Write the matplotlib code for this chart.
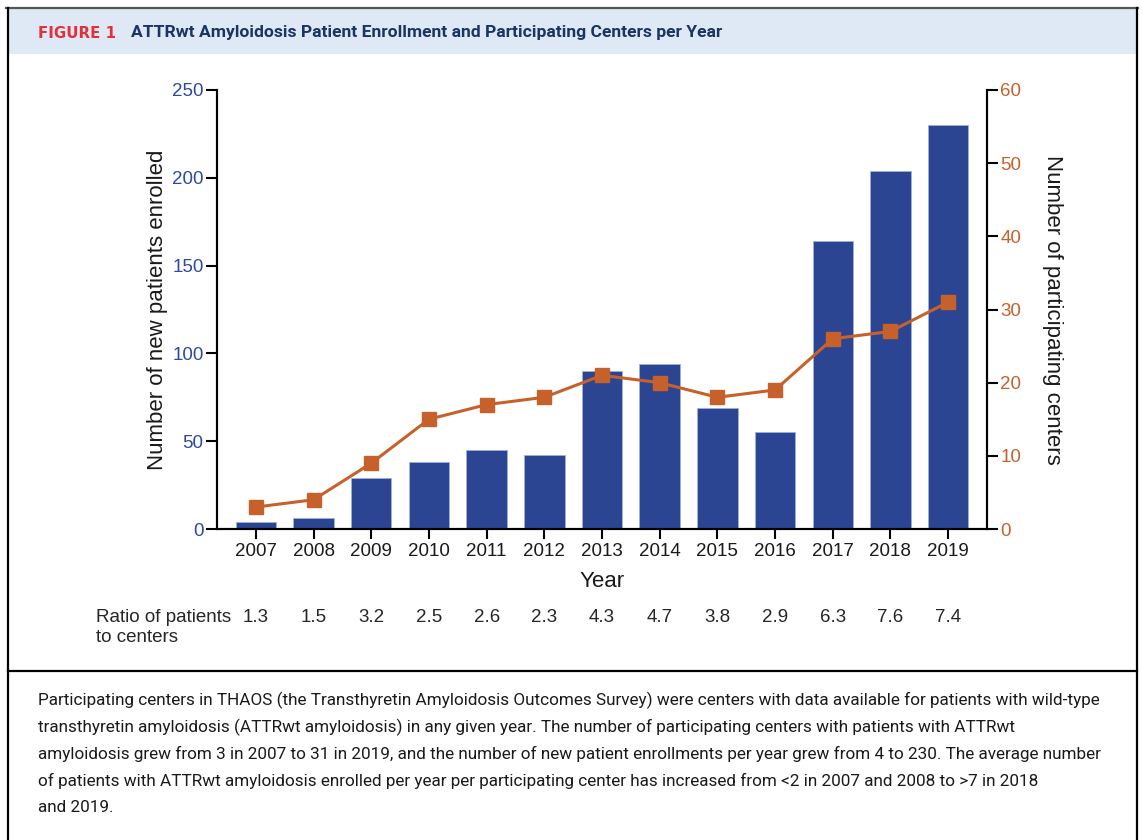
import matplotlib
matplotlib.use("Agg")
import matplotlib.pyplot as plt
from matplotlib.lines import Line2D
from matplotlib.patches import Rectangle

# ---- data ----
years = [2007, 2008, 2009, 2010, 2011, 2012, 2013, 2014, 2015, 2016, 2017, 2018, 2019]
patients = [4, 6, 29, 38, 45, 42, 90, 94, 69, 55, 164, 204, 230]
centers = [3, 4, 9, 15, 17, 18, 21, 20, 18, 19, 26, 27, 31]
ratios = ["1.3", "1.5", "3.2", "2.5", "2.6", "2.3", "4.3", "4.7", "3.8", "2.9", "6.3", "7.6", "7.4"]
left_ticks = [0, 50, 100, 150, 200, 250]
right_ticks = [0, 10, 20, 30, 40, 50, 60]

title_fig = "FIGURE 1"
title_text = "ATTRwt Amyloidosis Patient Enrollment and Participating Centers per Year"
caption_lines = [
    "Participating centers in THAOS (the Transthyretin Amyloidosis Outcomes Survey) were centers with data available for patients with wild-type",
    "transthyretin amyloidosis (ATTRwt amyloidosis) in any given year. The number of participating centers with patients with ATTRwt",
    "amyloidosis grew from 3 in 2007 to 31 in 2019, and the number of new patient enrollments per year grew from 4 to 230. The average number",
    "of patients with ATTRwt amyloidosis enrolled per year per participating center has increased from <2 in 2007 and 2008 to >7 in 2018",
    "and 2019.",
]

BAR = "#2B4593"
ORANGE = "#C7612B"
BLUE_TXT = "#2E4A9F"
W, H = 1142, 840

fig = plt.figure(figsize=(W / 100, H / 100), dpi=100)
plt.rcParams["font.family"] = ["Liberation Sans", "DejaVu Sans"]

def fx(px):
    return px / W

def fy(py):
    return 1 - py / H

# frame decorations
fig.patches.append(Rectangle((fx(8), fy(54)), fx(1129), (54 - 9) / H, transform=fig.transFigure,
                             facecolor="#DEE9F5", edgecolor="none", zorder=0))
fig.add_artist(Line2D([fx(6), fx(1138)], [fy(8), fy(8)], transform=fig.transFigure, color="#555555", lw=1.6))
fig.add_artist(Line2D([fx(7.5), fx(7.5)], [fy(8), 0], transform=fig.transFigure, color="black", lw=1.6))
fig.add_artist(Line2D([fx(1137), fx(1137)], [fy(8), 0], transform=fig.transFigure, color="black", lw=1.6))
fig.add_artist(Line2D([fx(7.5), fx(1137)], [fy(671), fy(671)], transform=fig.transFigure, color="black", lw=1.6))

# title
fig.text(fx(38), fy(33), title_fig, color="#E2313B", fontsize=10.8, fontweight="bold",
         family=["DejaVu Sans"], va="center", ha="left")
fig.text(fx(131), fy(33), title_text, color="#1B3563", fontsize=12.6, fontweight="bold",
         family=["Roboto", "DejaVu Sans"], va="center", ha="left")

# axes
ax = fig.add_axes([fx(216.7), fy(529), fx(987.3 - 216.7), (529 - 90) / H])
x = list(range(len(years)))
ax.bar(x, patients, width=0.7, color=BAR, edgecolor="#9FB0DA", linewidth=0.6, zorder=2)
ax.set_xlim(-0.68, 12.68)
ax.set_ylim(0, 250)
ax.set_yticks(left_ticks)
ax.set_xticks(x)
ax.set_xticklabels([str(y) for y in years])
ax.tick_params(axis="y", direction="out", length=8, width=1.5, pad=1.5, labelsize=13.5, labelcolor=BLUE_TXT)
ax.tick_params(axis="x", direction="out", length=7, width=1.5, pad=3, labelsize=13.5, labelcolor="#1a1a1a")
for s in ["top"]:
    ax.spines[s].set_visible(False)
for s in ["left", "bottom", "right"]:
    ax.spines[s].set_linewidth(1.5)
ax.set_ylabel("Number of new patients enrolled", fontsize=16, labelpad=3, color="#1a1a1a")
ax.set_xlabel("Year", fontsize=16, labelpad=8, color="#1a1a1a")

ax2 = ax.twinx()
ax2.plot(x, centers, color=ORANGE, lw=2.2, marker="s", markersize=9.5, zorder=3)
ax2.set_ylim(0, 60)
ax2.set_yticks(right_ticks)
ax2.tick_params(axis="y", direction="out", length=8, width=1.5, pad=1.5, labelsize=13.5, labelcolor=ORANGE)
ax2.spines["top"].set_visible(False)
for s in ["left", "bottom", "right"]:
    ax2.spines[s].set_linewidth(1.5)
ax2.set_ylabel("Number of participating centers", fontsize=16, rotation=270, labelpad=30, color="#1a1a1a")

# ratio row
trans = matplotlib.transforms.blended_transform_factory(ax.transData, fig.transFigure)
for xi, r in zip(x, ratios):
    ax.text(xi, fy(618), r, transform=trans, ha="center", va="center", fontsize=13.5, color="#262626", clip_on=False)
fig.text(fx(96.5), fy(618), "Ratio of patients", ha="left", va="center", fontsize=13.5, color="#262626")
fig.text(fx(96.5), fy(637), "to centers", ha="left", va="center", fontsize=13.5, color="#262626")

# caption
cap_y = [700, 727, 754, 781, 808]
for yy, line in zip(cap_y, caption_lines):
    fig.text(fx(38), fy(yy), line, ha="left", va="center", fontsize=12.35, color="#1a1a1a",
             family=["Roboto", "DejaVu Sans"])

fig.savefig("out.png", dpi=100)
